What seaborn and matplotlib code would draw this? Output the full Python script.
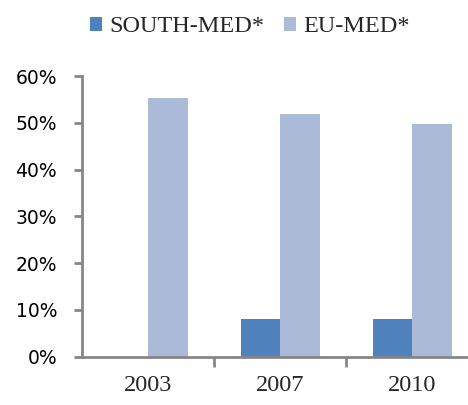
import matplotlib
matplotlib.use("Agg")
import matplotlib.pyplot as plt
import seaborn as sns
import pandas as pd
import numpy as np
from matplotlib.ticker import FixedLocator, PercentFormatter

years = ["2003", "2007", "2010"]
series = ["SOUTH-MED*", "EU-MED*"]
south_med = [np.nan, 8.0, 8.0]
eu_med = [55.2, 51.8, 49.7]
yticks = [0, 10, 20, 30, 40, 50, 60]

df = pd.DataFrame({
    "year": years * 2,
    "series": [series[0]] * 3 + [series[1]] * 3,
    "value": south_med + eu_med,
})

sns.set_style("white")
fig = plt.figure(figsize=(4.68, 4.05), dpi=100)
ax = fig.add_axes([82 / 468, (405 - 356.7) / 405, 1 - 82 / 468, (356.7 - 76) / 405])

palette = {series[0]: "#4F81BD", series[1]: "#AABAD7"}
sns.barplot(data=df, x="year", y="value", hue="series", order=years,
            hue_order=series, palette=palette, width=0.6, gap=0,
            saturation=1, ax=ax, legend=True, edgecolor="none")

ax.set_ylim(0, 60)
ax.set_xlim(-0.5, 2.42)
ax.set_xlabel("")
ax.set_ylabel("")
ax.yaxis.set_major_locator(FixedLocator(yticks))
ax.yaxis.set_major_formatter(PercentFormatter(decimals=0))

axcol = "#868686"
for s in ["top", "right"]:
    ax.spines[s].set_visible(False)
for s in ["left", "bottom"]:
    ax.spines[s].set_color(axcol)
    ax.spines[s].set_linewidth(2)

ax.tick_params(axis="y", direction="out", length=6, width=2, color=axcol,
               left=True, labelsize=13.5, pad=12, labelcolor="black")
ax.tick_params(axis="x", which="major", length=0, pad=13)
ax.set_xticks([0.5, 1.5], minor=True)
ax.tick_params(axis="x", which="minor", direction="out", length=7, width=2,
               color=axcol, bottom=True)
for lab in ax.get_xticklabels():
    lab.set_fontfamily("Liberation Serif")
    lab.set_fontsize(17.5)
for lab in ax.get_yticklabels():
    lab.set_fontfamily("DejaVu Sans")

handles, labels = ax.get_legend_handles_labels()
ax.legend(handles, labels, loc="center", bbox_to_anchor=(250 / 468, 1 - 27 / 405),
          bbox_transform=fig.transFigure, ncol=2, frameon=False,
          prop={"family": "Liberation Serif", "size": 17.5},
          handlelength=0.5, handleheight=0.5, handletextpad=0.3,
          columnspacing=0.8)

fig.savefig("out.png", dpi=100)
